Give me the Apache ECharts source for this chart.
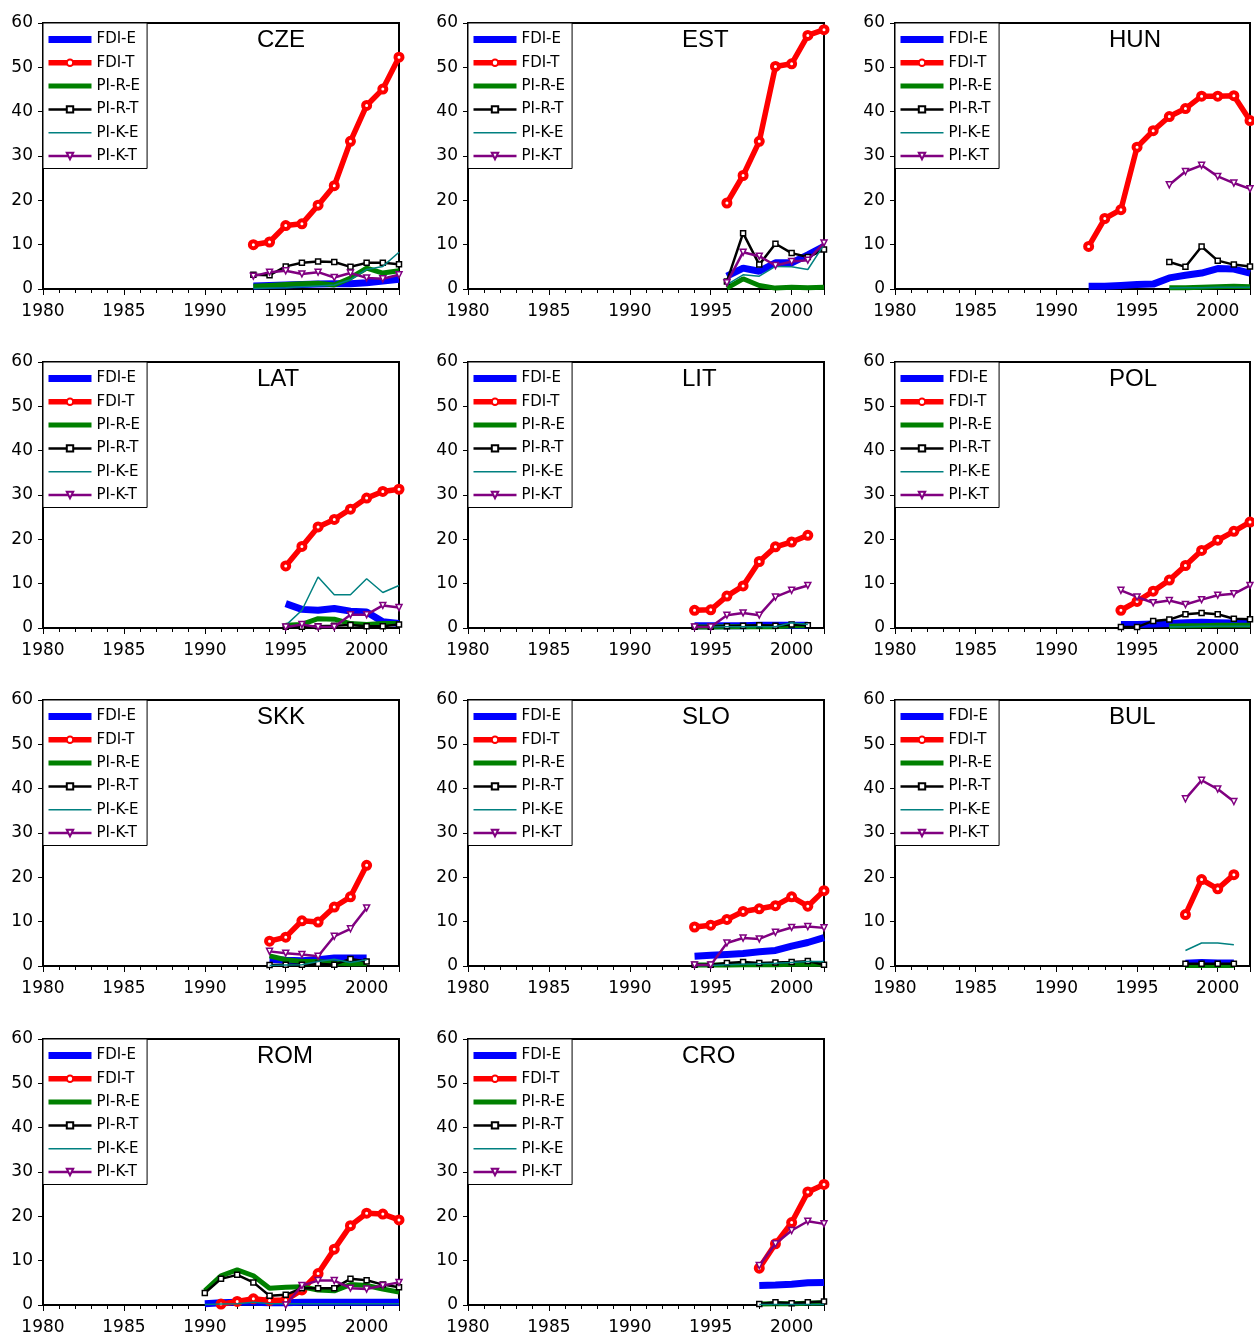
<!DOCTYPE html>
<html>
<head>
<meta charset="utf-8">
<script src="https://cdn.jsdelivr.net/npm/echarts@6/dist/echarts.min.js"></script>
<style>
  html, body { margin: 0; padding: 0; background: #fff; }
  #chart { width: 1254px; height: 1336px; }
</style>
</head>
<body>
<div id="chart"></div>
<script>
// panels, first year of each panel, then one list per series (one row per panel)
const countries = ['CZE', 'EST', 'HUN', 'LAT', 'LIT', 'POL', 'SKK', 'SLO', 'BUL', 'ROM', 'CRO'];
const startYears = [1993, 1996, 1992, 1995, 1994, 1994, 1994, 1994, 1998, 1990, 1998];
const seriesNames = ['FDI-E', 'FDI-T', 'PI-R-E', 'PI-R-T', 'PI-K-E', 'PI-K-T'];
const yTicks = [0, 10, 20, 30, 40, 50, 60];
const xLabels = [1980, 1985, 1990, 1995, 2000];

const fdiE = [
  [0.7, 0.8, 0.9, 1.0, 1.1, 1.2, 1.2, 1.4, 1.8, 2.2],
  [2.9, 4.7, 4.0, 5.9, 5.9, 7.7, 9.6],
  [0.6, 0.6, 0.8, 1.0, 1.1, 2.5, 3.1, 3.6, 4.6, 4.5, 3.6],
  [5.5, 4.2, 4.0, 4.4, 3.8, 3.6, 1.4, 1.0],
  [0.5, 0.5, 0.5, 0.5, 0.6, 0.6, 0.6, 0.6],
  [0.8, 0.8, 0.9, 1.0, 1.2, 1.3, 1.2, 1.1, 1.0],
  [1.5, 1.3, 1.2, 1.4, 1.8, 1.8, 1.8],
  [2.2, 2.4, 2.6, 2.8, 3.2, 3.5, 4.5, 5.3, 6.4],
  [0.6, 0.8, 0.7, 0.7],
  [0.3, 0.5, 0.6, 0.6, 0.5, 0.5, 0.6, 0.6, 0.6, 0.6, 0.6, 0.6, 0.6],
  [4.4, 4.5, 4.7, 5.0, 5.1]
];
const fdiT = [
  [10.0, 10.6, 14.3, 14.7, 18.9, 23.3, 33.3, 41.4, 45.1, 52.3],
  [19.4, 25.6, 33.3, 50.2, 50.8, 57.2, 58.5],
  [9.6, 15.9, 17.9, 32.0, 35.7, 38.9, 40.7, 43.5, 43.5, 43.6, 38.0],
  [14.0, 18.4, 22.8, 24.5, 26.8, 29.3, 30.8, 31.3],
  [4.0, 4.1, 7.2, 9.5, 15.0, 18.3, 19.4, 20.9],
  [4.0, 6.0, 8.3, 10.8, 14.1, 17.5, 19.8, 21.8, 23.9],
  [5.6, 6.5, 10.2, 9.9, 13.3, 15.6, 22.7],
  [8.8, 9.2, 10.5, 12.3, 12.9, 13.6, 15.6, 13.5, 17.0],
  [11.6, 19.5, 17.4, 20.6],
  [null, 0.2, 0.8, 1.4, 1.0, 1.1, 3.4, 7.1, 12.6, 17.9, 20.7, 20.5, 19.2],
  [8.3, 13.8, 18.6, 25.5, 27.2]
];
const pirE = [
  [0.6, 0.8, 1.0, 1.2, 1.3, 0.9, 2.5, 4.7, 3.6, 4.1],
  [0.2, 2.3, 0.8, 0.2, 0.4, 0.3, 0.4],
  [null, null, null, null, null, 0.3, 0.3, 0.4, 0.5, 0.6, 0.5],
  [0.6, 0.8, 2.1, 2.0, 1.0, 0.8, 1.0, 1.0],
  [0.2, 0.2, 0.3, 0.3, 0.3, 0.3, 0.5, 0.5],
  [null, null, null, 0.4, 0.5, 0.5, 0.6, 0.6, 0.6],
  [2.3, 1.4, 1.0, 1.0, 0.7, 0.5, 0.5],
  [0.2, 0.2, 0.2, 0.3, 0.3, 0.3, 0.4, 0.4, 0.4],
  [0.1, 0.1, 0.1, 0.1],
  [3.2, 6.6, 7.9, 6.6, 3.8, 4.0, 4.1, 3.4, 3.2, 4.6, 4.4, 3.6, 2.9],
  [0.2, 0.3, 0.3, 0.4, 0.5]
];
const pirT = [
  [3.2, 3.1, 5.1, 5.9, 6.2, 6.1, 5.0, 5.9, 5.9, 5.6],
  [1.7, 12.6, 5.5, 10.2, 8.1, 7.2, 8.9],
  [null, null, null, null, null, 6.1, 5.0, 9.6, 6.4, 5.5, 5.1],
  [0.3, 0.3, 0.4, 0.5, 0.7, 0.4, 0.4, 0.8],
  [0.3, 0.3, 0.4, 0.5, 0.6, 0.5, 0.8, 0.6],
  [0.2, 0.2, 1.6, 1.9, 3.1, 3.4, 3.1, 2.1, 2.0],
  [0.2, 0.3, 0.3, 0.5, 0.3, 1.6, 1.0],
  [0.3, 0.3, 0.7, 0.9, 0.7, 0.8, 0.9, 1.1, 0.3],
  [0.5, 0.5, 0.5, 0.5],
  [2.7, 5.9, 6.8, 5.1, 2.1, 2.3, 3.8, 3.8, 3.8, 5.9, 5.6, 4.6, 4.0],
  [0.2, 0.6, 0.4, 0.6, 0.8]
];
const pikE = [
  [0.1, 0.2, 0.3, 0.5, 0.7, 0.9, 2.1, 4.4, 5.1, 8.3],
  [1.0, 3.2, 2.9, 5.1, 5.0, 4.4, 10.0],
  [null, null, null, null, null, 0.2, 0.3, 0.3, 0.4, 0.4, 0.4],
  [0.6, 4.0, 11.5, 7.5, 7.5, 11.1, 8.0, 9.6],
  [0.2, 0.2, 0.3, 0.3, 0.3, 0.3, 1.2, 0.8],
  [null, null, null, 0.3, 0.3, 0.4, 0.4, 0.4, 0.4],
  [0.1, 0.2, 0.3, 1.0, 1.5, 0.8, 1.4],
  [0.1, 0.1, 0.3, 0.4, 0.5, 0.6, 0.8, 1.0, 1.0],
  [3.5, 5.2, 5.2, 4.8],
  [0.1, 0.2, 0.3, 0.6, 0.3, 0.3, 0.3, 0.3, 0.3, 0.3, 0.3, 0.3, 0.3],
  [0.1, 0.1, 0.1, 0.1, 0.1]
];
const pikT = [
  [2.9, 3.8, 4.1, 3.4, 3.8, 2.6, 3.6, 2.5, 2.3, 3.2],
  [1.4, 8.3, 7.4, 5.3, 6.2, 6.5, 10.4],
  [null, null, null, null, null, 23.5, 26.5, 27.9, 25.4, 23.9, 22.6],
  [0.2, 0.8, 0.2, 0.2, 3.0, 3.0, 5.1, 4.6],
  [0.2, 0.2, 2.9, 3.4, 2.9, 7.0, 8.5, 9.6],
  [8.5, 7.0, 5.7, 6.2, 5.3, 6.4, 7.4, 7.7, 9.6],
  [3.3, 2.9, 2.6, 2.2, 6.7, 8.4, 13.1],
  [0.2, 0.2, 5.2, 6.3, 6.1, 7.6, 8.7, 8.9, 8.6],
  [37.7, 41.9, 39.9, 37.1],
  [null, null, null, null, null, 0.0, 4.4, 5.5, 5.5, 3.8, 3.6, 4.4, 5.1],
  [8.9, 13.8, 16.8, 18.9, 18.3]
];

const allSeries = [fdiE, fdiT, pirE, pirT, pikE, pikT];

// look of each series, same order as seriesNames
const looks = [
  { color: '#0000ff', width: 7, symbol: 'none' },
  { color: '#ff0000', width: 5.5, symbol: 'circle', size: 7, border: 4 },
  { color: '#008000', width: 5, symbol: 'none' },
  { color: '#000000', width: 2.5, symbol: 'rect', size: 5, border: 1.5 },
  { color: '#008080', width: 1.5, symbol: 'none' },
  { color: '#800080', width: 2.5, symbol: 'triangle', size: 6, border: 1.5, rotate: 180 }
];

const colLeft = [43, 468, 895];
const colWidth = [356, 356, 355];
const rowTop = [23, 362, 700, 1039];
const plotH = 266;

const chart = echarts.init(document.getElementById('chart'));

const grids = [], xAxes = [], yAxes = [], series = [], legends = [], texts = [];

countries.forEach(function (name, i) {
  const col = i % 3, row = Math.floor(i / 3);
  const left = colLeft[col], top = rowTop[row];
  grids.push({
    left: left, top: top, width: colWidth[col], height: plotH,
    show: true, borderColor: '#000', borderWidth: 2, backgroundColor: '#fff'
  });
  xAxes.push({
    gridIndex: i, type: 'value', min: 1980, max: 2002, interval: 5,
    splitLine: { show: false },
    axisLine: { lineStyle: { color: '#000', width: 2 } },
    axisTick: { show: true, length: 6, lineStyle: { color: '#000', width: 1 } },
    minorTick: { show: true, splitNumber: 5, length: 4, lineStyle: { color: '#000', width: 1 } },
    axisLabel: {
      margin: 14, color: '#000', fontFamily: 'DejaVu Sans', fontSize: 17,
      showMaxLabel: false,
      formatter: function (v) { return xLabels.indexOf(v) >= 0 ? String(v) : ''; }
    }
  });
  yAxes.push({
    gridIndex: i, type: 'value', min: 0, max: 60, interval: 10,
    splitLine: { show: false },
    axisLine: { show: true, lineStyle: { color: '#000', width: 2 } },
    axisTick: { show: true, length: 5, lineStyle: { color: '#000', width: 1 } },
    axisLabel: {
      margin: 10, color: '#000', fontFamily: 'DejaVu Sans', fontSize: 17,
      formatter: function (v) { return yTicks.indexOf(v) >= 0 ? String(v) : ''; }
    }
  });

  allSeries.forEach(function (list, k) {
    const look = looks[k];
    const data = [];
    list[i].forEach(function (v, j) {
      if (v !== null) data.push([startYears[i] + j, v]);
    });
    const plain = look.symbol === 'none';
    series.push({
      name: seriesNames[k], type: 'line', xAxisIndex: i, yAxisIndex: i,
      data: data,
      symbol: look.symbol, symbolSize: look.size || 0, symbolRotate: look.rotate || 0,
      showSymbol: !plain,
      lineStyle: { color: look.color, width: look.width },
      itemStyle: plain
        ? { color: 'rgba(0,0,0,0)', borderWidth: 0 }
        : { color: '#fff', borderColor: look.color, borderWidth: look.border },
      emphasis: { disabled: true },
      animation: false, z: 2 + k
    });
  });

  legends.push({
    orient: 'vertical', left: left, top: top,
    padding: [9, 7, 5, 2], itemGap: 8.3, itemWidth: 43, itemHeight: 8,
    borderColor: '#000', borderWidth: 1, backgroundColor: '#fff',
    selectedMode: false,
    textStyle: { fontFamily: 'DejaVu Sans', fontSize: 15, color: '#000' },
    lineStyle: { width: 'inherit' },
    data: seriesNames.map(function (n, k) {
      return looks[k].symbol === 'none'
        ? { name: n, itemStyle: { opacity: 0 } }
        : { name: n };
    })
  });

  texts.push({
    type: 'text', x: left + 214, y: top + 5,
    style: { text: name, font: '24px "Liberation Sans"', fill: '#000' }
  });
});

chart.setOption({
  animation: false,
  backgroundColor: '#fff',
  grid: grids,
  xAxis: xAxes,
  yAxis: yAxes,
  legend: legends,
  series: series,
  graphic: texts
});
</script>
</body>
</html>
